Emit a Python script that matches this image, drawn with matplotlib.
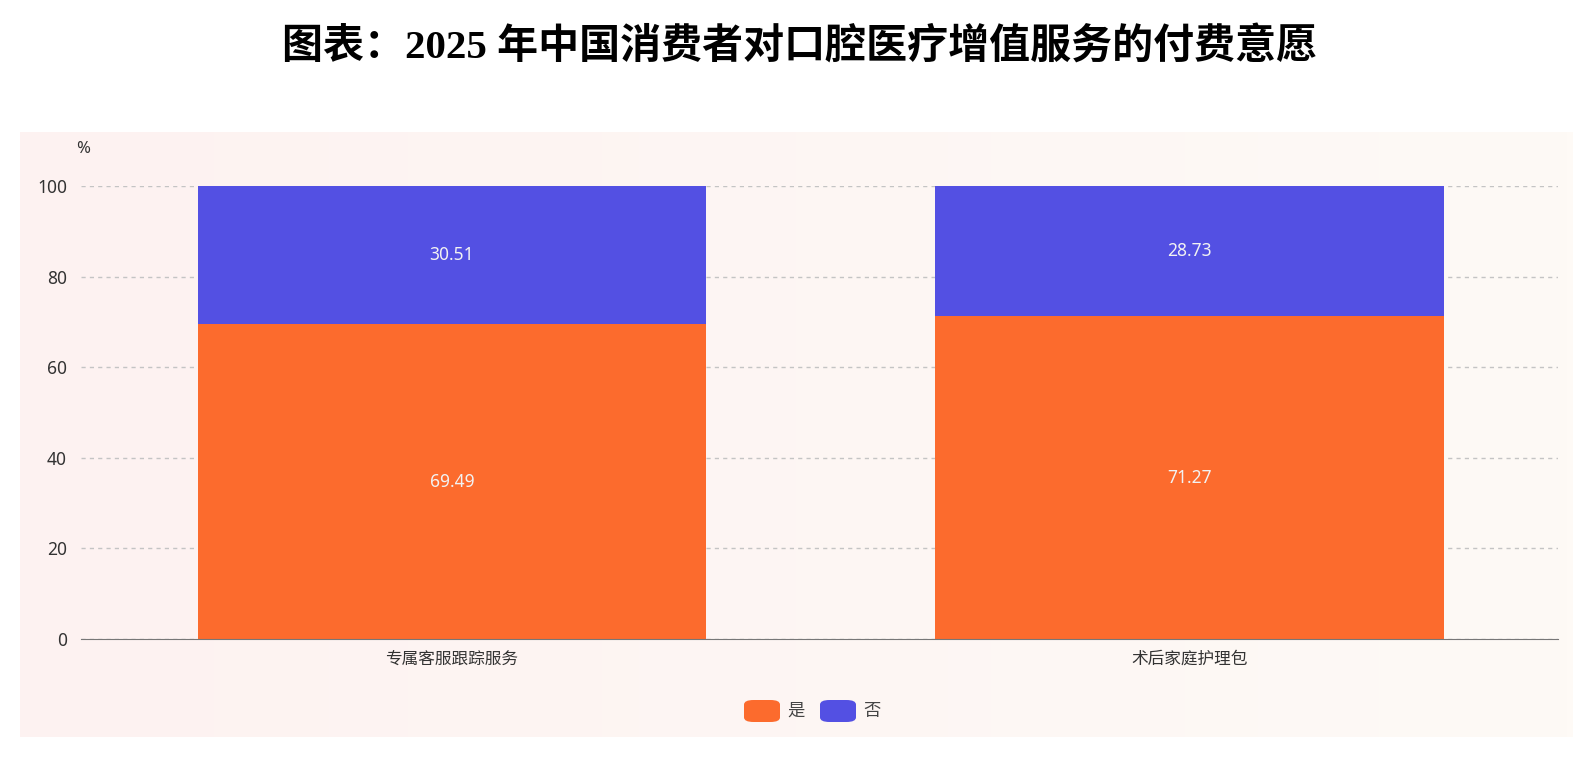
import matplotlib.pyplot as plt
import numpy as np
from matplotlib.patches import FancyBboxPatch

plt.rcParams["font.family"] = ["Noto Sans", "Noto Sans CJK SC", "DejaVu Sans"]

categories = ["专属客服跟踪服务", "术后家庭护理包"]
yes_values = [69.49, 71.27]
no_values = [30.51, 28.73]
series_names = ["是", "否"]
yticks = [0, 20, 40, 60, 80, 100]

ORANGE = "#FC6B2D"
BLUE = "#5350E3"
W, H = 1591, 768


def main():
    fig = plt.figure(figsize=(W / 100, H / 100), dpi=100)

    # soft pink panel background with a slight gradient to the right
    bg = fig.add_axes((20 / W, 1 - 737 / H, (1573 - 20) / W, (737 - 132) / H))
    grad = np.linspace(0, 1, 256)[None, :]
    left = np.array([253, 242, 241]) / 255
    right = np.array([254, 250, 246]) / 255
    img = left[None, None, :] * (1 - grad[..., None]) + right[None, None, :] * grad[..., None]
    bg.imshow(img, aspect="auto", extent=(0, 1, 0, 1))
    bg.set_axis_off()

    ax = fig.add_axes((81 / W, 1 - 639 / H, (1558 - 81) / W, (639 - 186) / H))
    ax.set_facecolor("none")
    x = np.arange(len(categories))
    ax.bar(x, yes_values, width=0.69, color=ORANGE, zorder=3)
    ax.bar(x, no_values, width=0.69, bottom=yes_values, color=BLUE, zorder=3)

    for xi, y, n in zip(x, yes_values, no_values):
        ax.text(xi, y / 2, f"{y:.2f}", ha="center", va="center",
                color="#F2F2F2", fontsize=12.5, zorder=4)
        ax.text(xi, y + n / 2, f"{n:.2f}", ha="center", va="center",
                color="#F2F2F2", fontsize=12.5, zorder=4)

    ax.set_xlim(-0.503, 1.5)
    ax.set_ylim(0, 100)
    ax.set_yticks(yticks)
    ax.set_xticks(x)
    ax.set_xticklabels(categories)
    ax.tick_params(axis="both", length=0, colors="#333333", labelsize=12.5)
    ax.tick_params(axis="y", pad=10)
    ax.tick_params(axis="x", pad=9, labelsize=12)
    ax.grid(axis="y", linestyle=(0, (3, 3)), color="#C4C4C4", linewidth=1, zorder=1)
    for s in ["top", "right", "left"]:
        ax.spines[s].set_visible(False)
    ax.spines["bottom"].set_color("#777777")
    ax.spines["bottom"].set_zorder(4)

    fig.text(83 / W, 1 - 149 / H, "%", ha="center", va="center",
             fontsize=12, color="#333333")

    fig.text(800 / W, 1 - 48 / H, "图表：2025 年中国消费者对口腔医疗增值服务的付费意愿",
             ha="center", va="center", fontsize=29.5, fontweight="bold", color="black",
             family=["Liberation Serif", "Noto Sans CJK SC"])

    # legend with rounded swatches
    for (cx, name, col) in [(762, series_names[0], ORANGE), (838, series_names[1], BLUE)]:
        box = FancyBboxPatch(((cx - 18) / W, 1 - 722 / H), 36 / W, 22 / H,
                             boxstyle="round,pad=0,rounding_size=0.006",
                             transform=fig.transFigure, facecolor=col, edgecolor="none")
        fig.patches.append(box)
        fig.text((cx + 25) / W, 1 - 711 / H, name, ha="left", va="center",
                 fontsize=12.5, color="#444444")

    fig.savefig("out.png", dpi=100)


if __name__ == "__main__":
    main()
